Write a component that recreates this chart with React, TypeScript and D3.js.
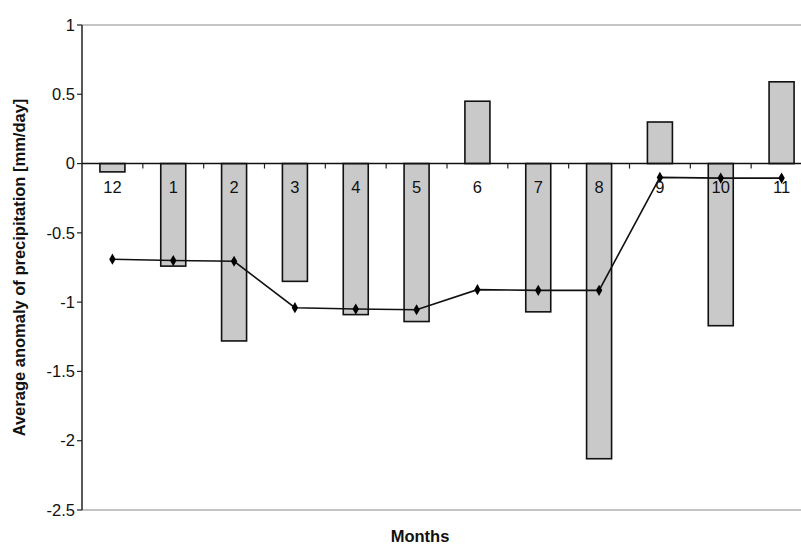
import React, { useEffect, useRef } from "react";
import * as d3 from "d3";

const months = ["12", "1", "2", "3", "4", "5", "6", "7", "8", "9", "10", "11"];
const barValues = [-0.06, -0.74, -1.28, -0.85, -1.09, -1.14, 0.45, -1.07, -2.13, 0.3, -1.17, 0.59];
const lineValues = [-0.69, -0.7, -0.705, -1.04, -1.05, -1.055, -0.91, -0.915, -0.915, -0.1, -0.105, -0.105];
const yTicks = [1, 0.5, 0, -0.5, -1, -1.5, -2, -2.5];
const yTickLabels = ["1", "0.5", "0", "-0.5", "-1", "-1.5", "-2", "-2.5"];

const W = 801;
const H = 549;

export default function App() {
  const ref = useRef<SVGSVGElement>(null);

  useEffect(() => {
    const svg = d3.select(ref.current);
    svg.selectAll("*").remove();
    const font = "'Liberation Sans', Arial, sans-serif";

    const x = d3.scaleBand<string>().domain(months).range([82, 812]).paddingInner(0).paddingOuter(0);
    const y = d3.scaleLinear().domain([-2.5, 1]).range([510, 25]);
    const bw = 25;
    const cx = (m: string) => (x(m) as number) + x.bandwidth() / 2;

    // top and bottom frame lines (gray)
    svg.append("line").attr("x1", 82).attr("x2", W).attr("y1", y(1)).attr("y2", y(1))
      .attr("stroke", "#8a8a8a").attr("stroke-width", 1.2);
    svg.append("line").attr("x1", 82).attr("x2", W).attr("y1", y(-2.5)).attr("y2", y(-2.5))
      .attr("stroke", "#8a8a8a").attr("stroke-width", 1.2);

    // bars
    svg.append("g").selectAll("rect").data(months).join("rect")
      .attr("x", (m) => cx(m) - bw / 2)
      .attr("width", bw)
      .attr("y", (_m, i) => Math.min(y(0), y(barValues[i])))
      .attr("height", (_m, i) => Math.abs(y(barValues[i]) - y(0)))
      .attr("fill", "#c9c9c9")
      .attr("stroke", "#111")
      .attr("stroke-width", 1.6);

    // y axis
    svg.append("line").attr("x1", 82).attr("x2", 82).attr("y1", y(1)).attr("y2", y(-2.5))
      .attr("stroke", "#222").attr("stroke-width", 1.5);
    const yt = svg.append("g");
    yTicks.forEach((t, i) => {
      yt.append("line").attr("x1", 77).attr("x2", 82).attr("y1", y(t)).attr("y2", y(t))
        .attr("stroke", "#222").attr("stroke-width", 1.2);
      yt.append("text").attr("x", 75).attr("y", y(t)).attr("dy", "0.35em")
        .attr("text-anchor", "end").attr("font-family", font).attr("font-size", 16.5)
        .attr("fill", "#111").text(yTickLabels[i]);
    });

    // zero axis
    svg.append("line").attr("x1", 82).attr("x2", W).attr("y1", y(0)).attr("y2", y(0))
      .attr("stroke", "#111").attr("stroke-width", 1.5);
    months.slice(1).forEach((m) => {
      const xb = x(m) as number;
      svg.append("line").attr("x1", xb).attr("x2", xb).attr("y1", y(0)).attr("y2", y(0) + 5)
        .attr("stroke", "#222").attr("stroke-width", 1.2);
    });

    // category labels
    svg.append("g").selectAll("text").data(months).join("text")
      .attr("x", (m) => cx(m))
      .attr("y", y(0) + 29)
      .attr("text-anchor", "middle")
      .attr("font-family", font).attr("font-size", 16.5).attr("fill", "#111")
      .text((m) => m);

    // line
    const pts: [number, number][] = months.map((m, i) => [cx(m), y(lineValues[i])]);
    svg.append("path").attr("d", d3.line()(pts)).attr("fill", "none")
      .attr("stroke", "#111").attr("stroke-width", 1.6);
    const diamond = d3.symbol().type(d3.symbolDiamond).size(36);
    svg.append("g").selectAll("path").data(pts).join("path")
      .attr("transform", (p) => `translate(${p[0]},${p[1]})`)
      .attr("d", diamond() as string)
      .attr("fill", "#000");

    // titles
    svg.append("text")
      .attr("transform", `translate(25,${(y(1) + y(-2.5)) / 2}) rotate(-90)`)
      .attr("text-anchor", "middle").attr("font-family", font).attr("font-weight", "bold")
      .attr("font-size", 16.5).attr("fill", "#111")
      .text("Average anomaly of precipitation [mm/day]");
    svg.append("text").attr("x", 420).attr("y", 542)
      .attr("text-anchor", "middle").attr("font-family", font).attr("font-weight", "bold")
      .attr("font-size", 16.5).attr("fill", "#111").text("Months");
  }, []);

  return (
    <svg ref={ref} width={W} height={H}
      style={{ position: "absolute", left: 0, top: 0, background: "#fff" }} />
  );
}
